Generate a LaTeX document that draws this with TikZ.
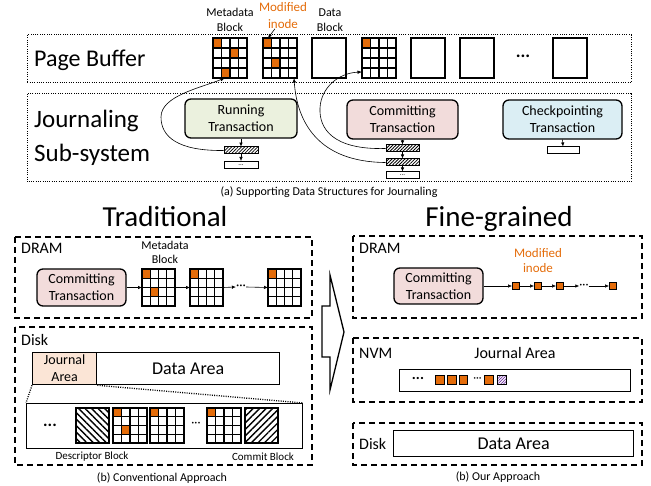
\documentclass[tikz,border=0pt]{standalone}
\usepackage{fontspec}
\setmainfont{Carlito}
\usetikzlibrary{arrows.meta,patterns.meta,calc}
\definecolor{orng}{HTML}{E46C0A}
\definecolor{greenfill}{HTML}{EBF1DE}
\definecolor{pinkfill}{HTML}{F2DCDB}
\definecolor{bluefill}{HTML}{DBEEF4}
\definecolor{peach}{HTML}{FBE5D6}
\definecolor{purp}{HTML}{7030A0}
\newcommand\fsz[2]{\fontsize{#1}{#2}\selectfont}
% metadata block: name, left x, top y, width, height, orange cells (row/col)
\newcommand\metablk[6]{%
  \foreach \ro/\co in {#6}{\fill[orng] ({#2+\co*#4/4},{#3+\ro*#5/4}) rectangle ++({#4/4},{#5/4});}
  \foreach \i in {1,2,3}{\draw[gridln] ({#2+\i*#4/4},#3) -- ++(0,#5);
                         \draw[gridln] (#2,{#3+\i*#5/4}) -- ++(#4,0);}
  \node[blkbox, minimum width=#4pt, minimum height=#5pt, anchor=north west] (#1) at (#2,#3) {};
}
\tikzset{
  gridln/.style={line width=1.1pt},
  blkbox/.style={draw, line width=1.4pt, inner sep=0pt, outer sep=0pt},
  dotbox/.style={line width=1pt, dash pattern=on 1pt off 1.3pt},
  dashbox/.style={line width=1.3pt, dash pattern=on 6pt off 4pt},
  txbox/.style={draw, line width=1.3pt, rounded corners=6pt, align=center,
    font=\fsz{14}{17}, inner sep=0pt},
  bar/.style={draw, line width=1pt, minimum width=33pt, minimum height=7pt, inner sep=0pt},
  hatchbar/.style={bar, pattern={Lines[angle=45,distance=2.3pt,line width=0.8pt]}},
  arr/.style={line width=0.6pt, -{Latex[length=4pt,width=3.5pt]}},
  conn/.style={line width=0.6pt, -{Latex[length=4.5pt,width=3.5pt]}},
  lbl/.style={inner sep=0pt, align=center},
  sq/.style={draw, line width=0.9pt, fill=orng, minimum size=7pt, inner sep=0pt},
  nsq/.style={draw, line width=0.9pt, fill=orng, minimum size=8.6pt, inner sep=0pt},
}
\begin{document}
\begin{tikzpicture}[x=1pt,y=-1pt]
\useasboundingbox (0,0) rectangle (651,486);

% ---------- (a) page buffer and journaling sub-system ----------
\draw[dotbox] (27,35) rectangle (631,83);
\draw[dotbox] (27,94) rectangle (631,182);
\node[anchor=base west, inner sep=0pt, font=\fsz{24}{29}] (pbt) at (34,67) {Page Buffer};
\node[anchor=base west, inner sep=0pt, font=\fsz{25}{30}] (jt1) at (34,128) {Journaling};
\node[anchor=base west, inner sep=0pt, font=\fsz{25}{30}] (jt2) at (34,162) {Sub-system};

\metablk{g1}{213}{38}{34}{40}{0/0,1/2,3/1}
\metablk{g2}{263}{38}{34}{40}{0/0,2/1}
\node[blkbox, minimum width=34pt, minimum height=40pt, anchor=north west] (d3) at (312,38) {};
\metablk{g4}{362}{38}{34}{40}{0/0}
\node[blkbox, minimum width=34pt, minimum height=40pt, anchor=north west] (d5) at (411,38) {};
\node[blkbox, minimum width=34pt, minimum height=40pt, anchor=north west] (d6) at (460,38) {};
\node[inner sep=0pt, font=\fsz{18}{20}\bfseries] (pdots) at (523,56) {...};
\node[blkbox, minimum width=34pt, minimum height=40pt, anchor=north west] (d7) at (553,38) {};

\node[lbl, font=\fsz{12}{15}] (mbl) at (230,20) {Metadata\\Block};
\node[lbl, font=\fsz{13}{17}, text=orng] (mil) at (283,15.5) {Modified\\inode};
\node[lbl, font=\fsz{12}{15}] (dbl) at (330,20) {Data\\Block};
\draw[arr] ($(mil.south)+(-8,0)$) -- ($(g2.north west)+(5,0)$);

\node[txbox, fill=greenfill, minimum width=112pt, minimum height=39pt] (rt) at (241,118.5) {Running\\Transaction};
\node[txbox, fill=pinkfill, minimum width=111pt, minimum height=39pt] (ct) at (402.5,119.5) {Committing\\Transaction};
\node[txbox, fill=bluefill, minimum width=119pt, minimum height=39pt] (kt) at (562.5,119.5) {Checkpointing\\Transaction};

\node[hatchbar, minimum width=34pt] (rb1) at (241,150.5) {};
\node[bar, minimum width=34pt, font=\fsz{7}{7}] (rb2) at (241,165) {...};
\draw[arr] (rt.south) -- (rb1.north);
\draw[arr] (rb1.south) -- (rb2.north);

\node[hatchbar] (cb1) at (402.5,148.5) {};
\node[hatchbar] (cb2) at (402.5,162.5) {};
\node[bar, font=\fsz{7}{7}] (cb3) at (402.5,175.5) {...};
\draw[arr] (ct.south) -- (cb1.north);
\draw[arr] (cb1.south) -- (cb2.north);
\draw[arr] (cb2.south) -- (cb3.north);

\node[bar, minimum width=32pt] (kb1) at (563,150.5) {};
\draw[arr] (kt.south) -- (kb1.north);

\draw[conn] (rb1.west) .. controls (178,151) and (161,137) .. (161,117)
  .. controls (161,96) and (200,88) .. ($(g1.south west)!0.35!(g1.south east)$);
\draw[conn] (cb2.west) .. controls (318,162) and (297,122) .. ($(g2.south east)+(-3,0)$);
\draw[conn] (cb1.west) .. controls (332,150) and (319,128) .. (320,108)
  .. controls (321,88) and (338,73) .. ($(g4.west)+(0,14)$);

\node[lbl, font=\fsz{12}{14}] (capa) at (329,192) {(a) Supporting Data Structures for Journaling};

% ---------- (b) conventional approach ----------
\node[anchor=base, inner sep=0pt, font=\fsz{29}{34}] (trad) at (165,227) {Traditional};
\draw[dashbox] (15,237) rectangle (312,318);
\node[anchor=west, inner sep=0pt, font=\fsz{16}{19}] (ldram) at (21,248) {DRAM};
\node[txbox, fill=pinkfill, minimum width=89pt, minimum height=37pt] (lct) at (81.5,287.5) {Committing\\Transaction};
\node[lbl, font=\fsz{12}{14}] (lmb) at (165,252) {Metadata\\Block};
\metablk{la}{142}{269}{33}{37}{0/0,2/1}
\metablk{lb}{190}{269}{33}{37}{0/0}
\metablk{lc}{268}{269}{33}{37}{0/0}
\node[inner sep=0pt, font=\fsz{13}{13}] (ldt) at (241,287) {···};
\draw[arr] (lct.east) -- (la.west);
\draw[arr] (la.east) -- (lb.west);
\draw[arr] (lb.east) -- (ldt.west);
\draw[arr] (ldt.east) -- (lc.west);

\draw[dashbox] (15,327) rectangle (312,465);
\node[anchor=west, inner sep=0pt, font=\fsz{16}{19}] (ldisk) at (21,340) {Disk};
\node[draw, line width=1.3pt, fill=peach, minimum width=64pt, minimum height=32pt, inner sep=0pt,
  align=center, font=\fsz{14}{17}, anchor=north west] (ja) at (32,352) {Journal\\Area};
\node[draw, line width=1.3pt, minimum width=183pt, minimum height=32pt, inner sep=0pt,
  font=\fsz{18}{20}, anchor=north west] (lda) at (96,352) {Data Area};
\node[draw, line width=1.3pt, minimum width=276pt, minimum height=45pt, inner sep=0pt,
  anchor=north west] (jc) at (26,403) {};
\draw[line width=1.3pt, dash pattern=on 1pt off 1.3pt] (ja.south west) -- (jc.north west);
\draw[line width=1.3pt, dash pattern=on 1pt off 1.3pt] (ja.south east) -- (jc.north east);
\node[inner sep=0pt, font=\fsz{17}{17}\bfseries] (jdots) at (50,425) {...};
\node[blkbox, minimum width=33pt, minimum height=35pt, anchor=north west,
  pattern={Lines[angle=-45,distance=4.6pt,line width=1.3pt]}] (desc) at (76,408) {};
\metablk{ja1}{113}{408}{34}{35}{0/0,2/1}
\metablk{ja2}{150}{408}{34}{35}{0/0}
\node[inner sep=0pt, font=\fsz{12}{12}] (jdt) at (196,424) {···};
\metablk{ja3}{207}{408}{34}{35}{0/0}
\node[blkbox, minimum width=33pt, minimum height=35pt, anchor=north west,
  pattern={Lines[angle=45,distance=4.6pt,line width=1.3pt]}] (cmt) at (245,408) {};
\node[lbl, font=\fsz{11}{12}] (descl) at (92,457) {Descriptor Block};
\node[lbl, font=\fsz{11}{12}] (cmtl) at (263,457) {Commit Block};
\node[lbl, font=\fsz{12}{14}] (capb) at (162,478) {(b) Conventional Approach};

% ---------- transition arrow ----------
\draw[line width=1.3pt, line join=miter] (322,306) -- (330,306) -- (330,275) -- (344,332)
  -- (330,390) -- (330,357) -- (322,357) -- cycle;

% ---------- (b) fine-grained approach ----------
\node[anchor=base, inner sep=0pt, font=\fsz{29}{34}] (fine) at (499,227) {Fine-grained};
\draw[dashbox] (353,236) rectangle (642,318);
\node[anchor=west, inner sep=0pt, font=\fsz{16}{19}] (rdram) at (359,248) {DRAM};
\node[txbox, fill=pinkfill, minimum width=89pt, minimum height=36pt] (rct) at (438.5,286) {Committing\\Transaction};
\node[lbl, font=\fsz{13}{15}, text=orng] (rmi) at (538,260.5) {Modified\\inode};
\node[sq] (s1) at (516,286) {};
\node[sq] (s2) at (538,286) {};
\node[sq] (s3) at (560,286) {};
\node[inner sep=0pt, font=\fsz{12}{12}] (sdt) at (584,286) {···};
\node[sq] (s4) at (613,286) {};
\draw[arr] (rct.east) -- (s1.west);
\draw[arr] (s1.east) -- (s2.west);
\draw[arr] (s2.east) -- (s3.west);
\draw[arr] (s3.east) -- (sdt.west);
\draw[arr] (sdt.east) -- (s4.west);

\draw[dashbox] (353,338) rectangle (642,402);
\node[anchor=west, inner sep=0pt, font=\fsz{16}{19}] (rnvm) at (359,353) {NVM};
\node[lbl, font=\fsz{16}{19}] (rja) at (515,353) {Journal Area};
\node[draw, line width=1.3pt, minimum width=231pt, minimum height=22pt, inner sep=0pt,
  anchor=north west] (nb) at (399,369) {};
\node[inner sep=0pt, font=\fsz{15}{15}\bfseries] (ndots) at (418,378) {...};
\node[nsq] (n1) at (440,380) {};
\node[nsq] (n2) at (451.7,380) {};
\node[nsq] (n3) at (463.3,380) {};
\node[inner sep=0pt, font=\fsz{11}{11}] (ndt) at (477.5,380) {···};
\node[nsq] (n4) at (489,380) {};
\node[draw, line width=0.9pt, minimum size=8.6pt, inner sep=0pt,
  pattern={Lines[angle=45,distance=2pt,line width=0.7pt]}, pattern color=purp] (n5) at (502,380) {};

\draw[dashbox] (353,423) rectangle (642,465);
\node[anchor=west, inner sep=0pt, font=\fsz{16}{19}] (rdisk) at (359,444) {Disk};
\node[draw, line width=1.3pt, minimum width=240pt, minimum height=26pt, inner sep=0pt,
  font=\fsz{18}{20}, anchor=north west] (rda) at (393,430) {Data Area};
\node[lbl, font=\fsz{12}{14}] (capc) at (498,477) {(b) Our Approach};
\end{tikzpicture}
\end{document}
